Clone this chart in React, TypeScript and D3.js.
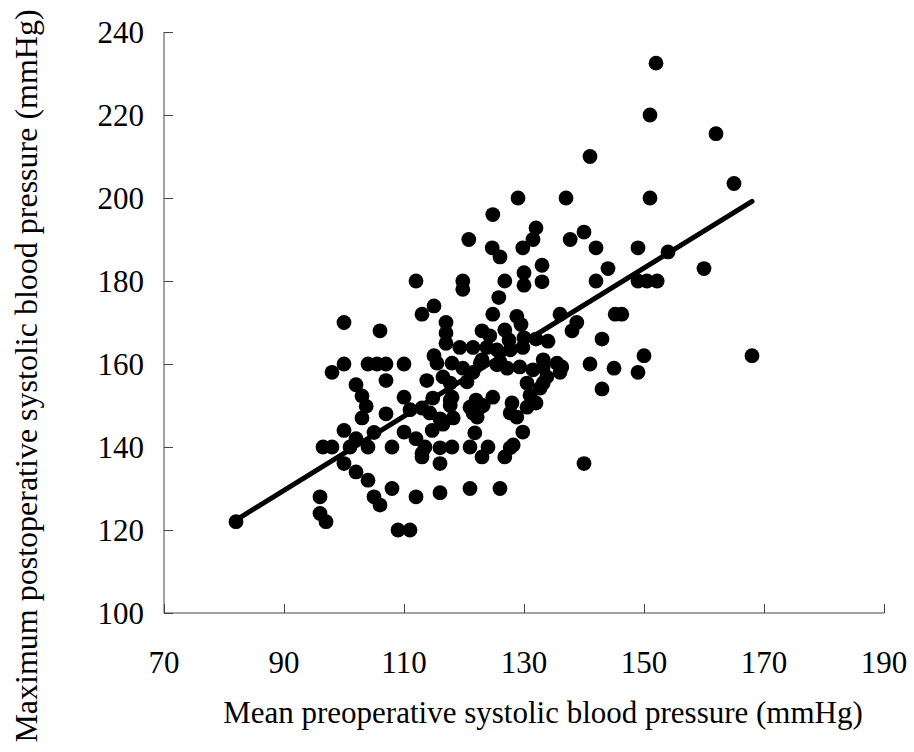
import * as d3 from "d3";
import React, { useEffect, useRef } from "react";

// mean preoperative SBP (x) / maximum postoperative SBP (y)
const preopMean: number[] = [
    82, 96, 96, 97, 96.5, 98, 98, 100, 100, 100, 100, 101, 102, 102, 104, 104,
    105, 106, 108, 109, 111, 112, 116, 121, 126, 140, 105, 108, 110, 112, 113,
    102, 103, 103.7, 103, 107, 110, 111, 113, 104, 105.5, 107, 110, 107, 113.8, 106,
    113, 115, 117, 117, 117, 115, 112, 114.7, 113.5, 113, 116, 118, 116, 121, 123, 124,
    127.7, 126.8, 121.8, 129.8,
    125.8, 124.8, 128.8, 129.5, 136, 123, 124.3, 126.8, 132, 134,
    119.3, 121.5, 123.8, 125.5, 127.7, 129.8,
    115.5, 118, 119.8, 122.7, 121.5, 125.5, 127.2, 129.3, 131.5, 133.2, 135.5, 136.3,
    116.5, 117.7, 120.5, 130.5, 132.7,
    118, 122, 124.8, 121, 122.7, 128, 130.5, 132, 127.7, 128.8,
    114.3, 116, 116.5, 121.5, 117.7,
    127.5, 130, 123, 133.8, 136, 114.8, 117.7, 123.2, 122.2, 131, 133.2, 118.2, 128.2, 126, 133.2,
    129, 137, 124.8, 132, 131.5, 129.8, 120.8, 124.7, 126, 133, 133, 130, 130, 126.8, 119.8, 119.8,
    152, 151, 162, 141, 165, 151,
    140, 137.7, 142, 149, 154, 160, 144, 142, 149, 150.5, 152.2,
    138.8, 138, 145.2, 146.3, 143, 150, 141, 145, 149, 143, 168,
];

const postopMax: number[] = [
    122, 128, 124, 122, 140, 140, 158, 160, 170, 144, 136, 140, 142, 134, 132, 140,
    128, 126, 130, 120, 120, 128, 129, 130, 130, 136, 143.5, 140, 143.6, 142, 138.5,
    155, 152.3, 149.8, 147, 148, 152, 149, 149.4, 160, 160, 160, 160, 156, 156, 168,
    172, 174, 170, 167.5, 165, 162, 180, 144, 140, 137.6, 139.8, 140, 136, 140, 137.6, 140,
    139.8, 137.6, 143.4, 143.6,
    176, 172, 171.5, 169.5, 172, 168, 166.8, 168.2, 166, 165.5,
    164, 164, 164, 163.4, 163.4, 164,
    160.2, 160.2, 159, 160.2, 158, 159.8, 159, 159.3, 158.6, 159.3, 160.2, 159.3,
    156.9, 155.4, 155.7, 155.4, 154.2,
    152, 151.3, 152, 149.6, 149.6, 150.6, 149.6, 150.6, 148.2, 147.2,
    148.2, 146.8, 145.5, 148.2, 151.3,
    165.8, 166.3, 161, 156.9, 158, 151.8, 150, 150, 147.2, 152.5, 155.4, 147, 140.5, 160.5, 161,
    200, 200, 196, 192.8, 190, 188, 190, 188, 185.8, 183.8, 179.8, 182, 179, 180, 180, 178,
    232.5, 220, 215.5, 210, 203.5, 200,
    191.8, 190, 188, 188, 187, 183, 183, 180, 180, 180, 180,
    170, 168, 172, 172, 166, 162, 160, 159, 158, 154, 162,
];

// fitted regression line end points
const fitX: number[] = [82, 168];
const fitY: number[] = [122.4, 199.2];

const xTicks: number[] = [70, 90, 110, 130, 150, 170, 190];
const yTicks: number[] = [100, 120, 140, 160, 180, 200, 220, 240];

const xTitle = "Mean preoperative systolic blood pressure (mmHg)";
const yTitle = "Maximum postoperative systolic blood pressure (mmHg)";

const WIDTH = 914;
const HEIGHT = 752;
const FONT = "'Liberation Serif', 'Times New Roman', serif";

const App: React.FC = () => {
    const svgRef = useRef<SVGSVGElement>(null);

    useEffect(() => {
        if (!svgRef.current) return;
        const svg = d3.select(svgRef.current);
        svg.selectAll("*").remove();

        const xScale = d3.scaleLinear().domain([70, 190]).range([164, 884]);
        const yScale = d3.scaleLinear().domain([100, 240]).range([613, 32]);

        const axisColor = "#444";

        // y axis, ticks pointing inward
        const yAxis = d3
            .axisRight(yScale)
            .tickValues(yTicks)
            .tickSize(9)
            .tickFormat(() => "");
        const gy = svg.append("g").attr("transform", `translate(${xScale(70)},0)`).call(yAxis);
        gy.select(".domain").attr("stroke", axisColor).attr("d", `M0,${yScale(100)}V${yScale(240)}`);
        gy.selectAll(".tick line").attr("stroke", axisColor);

        // x axis, ticks pointing inward
        const xAxis = d3
            .axisTop(xScale)
            .tickValues(xTicks)
            .tickSize(9)
            .tickFormat(() => "");
        const gx = svg.append("g").attr("transform", `translate(0,${yScale(100)})`).call(xAxis);
        gx.select(".domain").attr("stroke", axisColor).attr("d", `M${xScale(70)},0H${xScale(190)}`);
        gx.selectAll(".tick line").attr("stroke", axisColor);

        // tick labels
        svg.append("g")
            .selectAll("text")
            .data(yTicks)
            .join("text")
            .attr("x", 144)
            .attr("y", (d) => yScale(d))
            .attr("dy", "0.35em")
            .attr("text-anchor", "end")
            .attr("font-family", FONT)
            .attr("font-size", 31)
            .text((d) => d);

        svg.append("g")
            .selectAll("text")
            .data(xTicks)
            .join("text")
            .attr("x", (d) => xScale(d))
            .attr("y", 673)
            .attr("text-anchor", "middle")
            .attr("font-family", FONT)
            .attr("font-size", 31)
            .text((d) => d);

        // axis titles
        svg.append("text")
            .attr("x", 543)
            .attr("y", 723)
            .attr("text-anchor", "middle")
            .attr("font-family", FONT)
            .attr("font-size", 31)
            .text(xTitle);

        svg.append("text")
            .attr("transform", `translate(37,376) rotate(-90)`)
            .attr("text-anchor", "middle")
            .attr("font-family", FONT)
            .attr("font-size", 32)
            .text(yTitle);

        // points
        svg.append("g")
            .selectAll("circle")
            .data(preopMean.map((x, i) => [x, postopMax[i]] as [number, number]))
            .join("circle")
            .attr("cx", (d) => xScale(d[0]))
            .attr("cy", (d) => yScale(d[1]))
            .attr("r", 7.4)
            .attr("fill", "#000");

        // regression line
        const line = d3
            .line<number>()
            .x((d) => xScale(d))
            .y((_, i) => yScale(fitY[i]));
        svg.append("path")
            .datum(fitX)
            .attr("fill", "none")
            .attr("stroke", "#000")
            .attr("stroke-width", 5)
            .attr("stroke-linecap", "round")
            .attr("d", line);
    }, []);

    return (
        <svg
            ref={svgRef}
            width={WIDTH}
            height={HEIGHT}
            style={{ position: "absolute", left: 0, top: 0, background: "#fff" }}
        />
    );
};

export default App;
